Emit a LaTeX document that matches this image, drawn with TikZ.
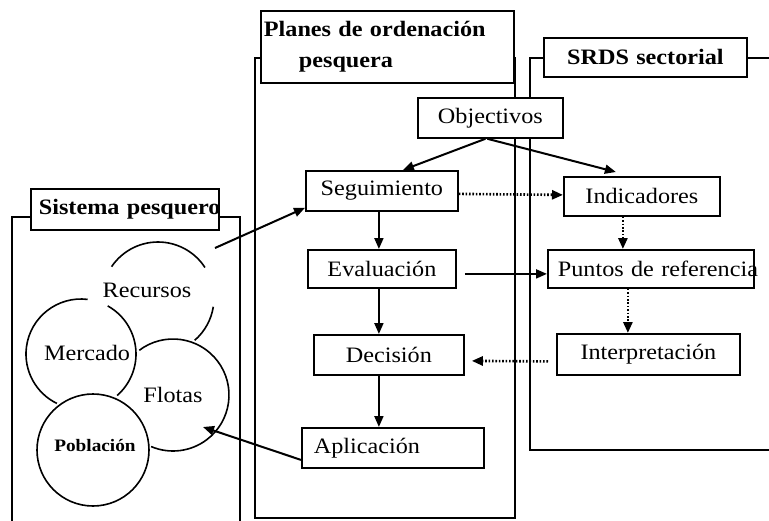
\documentclass[tikz,border=0pt]{standalone}
\usepackage{fontspec}
\setmainfont{Liberation Serif}[FakeStretch=1.1]
\usetikzlibrary{arrows.meta,calc}
\begin{document}
\begin{tikzpicture}[x=1pt,y=-1pt,
  every node/.style={font=\fontsize{22}{26}\selectfont},
  framebox/.style={draw, line width=1.8pt},
  bx/.style={draw, fill=white, line width=1.8pt, inner ysep=0pt, inner xsep=0pt, align=center, anchor=north west},
  ttl/.style={bx, font=\bfseries\fontsize{22}{31}\selectfont},
  circ/.style={draw, line width=1.6pt},
  lbl/.style={inner sep=0pt},
  arr/.style={line width=2pt, -{Triangle[length=11pt,width=9pt]}},
  darr/.style={line width=2.6pt, dash pattern=on 1.6pt off 1.8pt, -{Triangle[length=11pt,width=9pt]}}]

\path[use as bounding box, fill=white] (0,0) rectangle (769,520);

% frames
\draw[framebox] (12,530) -- (12,217) -- (240,217) -- (240,530);
\draw[framebox] (255,58) rectangle (515,518);
\draw[framebox] (790,58) -- (530,58) -- (530,450) -- (790,450);

% title boxes
\node[ttl, text width=172pt, inner xsep=8pt, minimum height=41pt, align=left] (sist) at (30,188) {\mbox{Sistema pesquero}};
\node[ttl, text width=247pt, inner xsep=3pt, minimum height=72pt, align=left] (plan) at (260,10) {\rule{0pt}{14pt}Planes de ordenación\\\hspace*{35pt}pesquera};
\node[ttl, text width=203pt, minimum height=39pt] (srds) at (543,37) {SRDS sectorial};

% circles
\draw[circ] (158,298) ++(-146:56) arc[start angle=-146, end angle=-33, radius=56];
\draw[circ] (158,298) ++(9:56) arc[start angle=9, end angle=49, radius=56];
\draw[circ] (81,354) ++(-83:55) arc[start angle=-83, end angle=-244, radius=55];
\draw[circ] (81,354) ++(-61:55) arc[start angle=-61, end angle=49, radius=55];
\draw[circ] (173,395) ++(-127:56) arc[start angle=-127, end angle=113, radius=56];
\draw[circ] (93,450) circle[radius=56];

\node[lbl] (rec) at (147,290) {Recursos};
\node[lbl] (mer) at (87,353) {Mercado};
\node[lbl] (flo) at (173,395) {Flotas};
\node[lbl, font=\bfseries\fontsize{17.5}{20}\selectfont] (pob) at (95,445) {Población};

% process boxes
\node[bx, text width=145pt, minimum height=40pt] (obj) at (417,97) {Objectivos};
\node[bx, text width=152pt, minimum height=40pt] (seg) at (305,170) {Seguimiento};
\node[bx, text width=148pt, minimum height=38pt] (eva) at (307,249) {Evaluación};
\node[bx, text width=150pt, minimum height=40pt] (dec) at (313,334) {Decisión};
\node[bx, text width=158pt, inner xsep=12pt, minimum height=40pt, align=left] (apl) at (301,427) {Aplicación};
\node[bx, text width=156pt, minimum height=39pt] (ind) at (563,176) {Indicadores};
\node[bx, text width=186pt, inner xsep=10pt, minimum height=38pt, align=left] (pun) at (547,249) {\mbox{Puntos de referencia}};
\node[bx, text width=183pt, minimum height=41pt] (int) at (556,333) {Interpretación};

\coordinate (recT) at (215,248);
\coordinate (floT) at (203,427);

% connectors
\draw[arr] ([xshift=-5pt]obj.south) -- ([xshift=21pt]seg.north);
\draw[arr] ([xshift=-3pt]obj.south) -- ([xshift=-26pt,yshift=4pt]ind.north);
\draw[darr] ([yshift=-3pt]seg.east) -- ([yshift=1.5pt]ind.west);
\draw[arr] ([xshift=-3pt]seg.south) -- ([xshift=-3pt]eva.north);
\draw[arr] ([xshift=-3pt]eva.south) -- ([xshift=-10pt]dec.north);
\draw[arr] ([xshift=-10pt]dec.south) -- ([xshift=-14pt]apl.north);
\draw[arr] ([xshift=8pt,yshift=-5pt]eva.east) -- ([yshift=-5pt]pun.west);
\draw[darr] ([xshift=-19pt]ind.south) -- ([xshift=-28pt]pun.north);
\draw[darr] ([xshift=-23pt]pun.south) -- ([xshift=-20.5pt]int.north);
\draw[darr] ([xshift=-8pt,yshift=-7pt]int.west) -- ([xshift=7pt,yshift=-6pt]dec.east);
\draw[arr] (recT) -- ([yshift=4pt]seg.south west);
\draw[arr] ([yshift=-12pt]apl.west) -- (floT);
\end{tikzpicture}
\end{document}
